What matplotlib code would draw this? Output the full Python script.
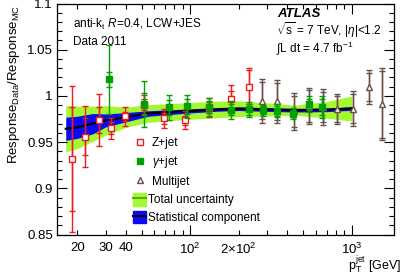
import numpy as np
import matplotlib
matplotlib.use("Agg")
import matplotlib.pyplot as plt
from matplotlib.patches import Patch
from matplotlib.lines import Line2D
from matplotlib.ticker import FixedLocator, NullFormatter, MultipleLocator

plt.rcParams['font.family'] = ['Liberation Sans', 'DejaVu Sans']
plt.rcParams['mathtext.fontset'] = 'custom'
plt.rcParams['mathtext.rm'] = 'Liberation Sans'
plt.rcParams['mathtext.it'] = 'Liberation Sans:italic'
plt.rcParams['mathtext.bf'] = 'Liberation Sans:bold'

# ---- data ----
zjet_pt = [18.5, 22.5, 27.2, 32.5, 39.5, 52, 69, 93, 130, 179, 231]
zjet_val = [0.932, 0.9557, 0.9738, 0.9648, 0.978, 0.9907, 0.9756, 0.9738, 0.9873, 0.9964, 1.0097]
zjet_tot = [0.079, 0.033, 0.028, 0.011, 0.0105, 0.0105, 0.0105, 0.0098, 0.010, 0.015, 0.021]
zjet_stat = [0.056, 0.020, 0.014, 0.0065, 0.005, 0.006, 0.006, 0.005, 0.006, 0.009, 0.018]

gjet_pt = [31.6, 52, 73.5, 95, 130, 180, 231, 284, 343, 435, 540, 658]
gjet_val = [1.018, 0.9914, 0.9875, 0.989, 0.988, 0.985, 0.9856, 0.9846, 0.9838, 0.981, 0.991, 0.988]
gjet_tot = [0.037, 0.0245, 0.014, 0.0125, 0.0095, 0.0095, 0.008, 0.006, 0.007, 0.006, 0.0085, 0.012]
gjet_stat = [0.008, 0.012, 0.008, 0.008, 0.006, 0.006, 0.006, 0.004, 0.005, 0.004, 0.006, 0.009]

mj_pt = [279, 343, 441, 540, 660, 813, 1023, 1274, 1531]
mj_val = [0.9946, 0.994, 0.9833, 0.989, 0.988, 0.9856, 0.9864, 1.0097, 0.991]
mj_tot = [0.0235, 0.0235, 0.020, 0.0196, 0.019, 0.016, 0.019, 0.0185, 0.039]
mj_stat = [0.020, 0.020, 0.017, 0.017, 0.016, 0.014, 0.016, 0.015, 0.036]

band_pt = [17, 20, 25, 30, 40, 55, 100, 150, 200, 300, 450, 700, 1000]
band_center = [0.9645, 0.966, 0.970, 0.9735, 0.977, 0.981, 0.9838, 0.9855, 0.9862, 0.9853, 0.9846, 0.985, 0.9864]
band_total = [0.025, 0.023, 0.019, 0.016, 0.011, 0.0095, 0.009, 0.009, 0.0085, 0.007, 0.0055, 0.009, 0.0135]
band_stat = [0.0125, 0.012, 0.011, 0.007, 0.005, 0.003, 0.0022, 0.002, 0.002, 0.002, 0.002, 0.002, 0.002]

xtick_vals = [20, 30, 40, 100, 200, 1000]
xtick_labels = ['20', '30', '40', r'$10^{2}$', r'$2{\times}10^{2}$', r'$10^{3}$']

W, H = 407, 276
fig = plt.figure(figsize=(W/100, H/100), dpi=100)
ax = fig.add_axes([57/W, 1-234.6/H, (394-57)/W, (234.6-3.5)/H])

c_green = '#a4f832'
c_blue = '#0a0af5'
c_red = '#ee1c1c'
c_gj = '#00a000'
c_mj = '#6a5048'

bp = np.array(band_pt)
bc = np.array(band_center)
bt = np.array(band_total)
bs = np.array(band_stat)
fine = np.logspace(np.log10(bp[0]), np.log10(bp[-1]), 300)
lf = np.log10(fine)
lbp = np.log10(bp)
fc = np.interp(lf, lbp, bc)
ft = np.interp(lf, lbp, bt)
fs = np.interp(lf, lbp, bs)
ax.fill_between(fine, fc-ft, fc+ft, color=c_green, lw=0, zorder=1)
ax.fill_between(fine, fc-fs, fc+fs, color=c_blue, lw=0, zorder=2)
ax.plot(fine, fc, color='black', lw=1.6, zorder=3)

def draw(pt, val, tot, stat, color, marker, mfc, z):
    ax.errorbar(pt, val, yerr=tot, fmt='none', ecolor=color, elinewidth=1.0,
                capsize=2.2, capthick=1.0, zorder=z)
    ax.errorbar(pt, val, yerr=stat, fmt='none', ecolor=color, elinewidth=1.0,
                capsize=2.2, capthick=1.0, zorder=z)
    ax.plot(pt, val, linestyle='none', marker=marker, ms=4.6, mfc=mfc, mec=color,
            mew=1.0, zorder=z+0.5)

draw(mj_pt, mj_val, mj_tot, mj_stat, c_mj, '^', 'white', 4)
draw(zjet_pt, zjet_val, zjet_tot, zjet_stat, c_red, 's', 'white', 5)
draw(gjet_pt, gjet_val, gjet_tot, gjet_stat, c_gj, 's', c_gj, 6)

ax.set_xscale('log')
ax.set_xlim(15, 1825)
ax.set_ylim(0.85, 1.1)

ax.xaxis.set_major_locator(FixedLocator([100, 1000]))
minors = [v*d for d in [10, 100, 1000] for v in range(2, 10) if 15 <= v*d <= 1825]
ax.xaxis.set_minor_locator(FixedLocator(minors))
ax.xaxis.set_major_formatter(NullFormatter())
ax.xaxis.set_minor_formatter(NullFormatter())
for v, lab in zip(xtick_vals, xtick_labels):
    ax.text(v, -0.03, lab, transform=ax.get_xaxis_transform(), ha='center', va='top', fontsize=9.5)

ax.yaxis.set_major_locator(MultipleLocator(0.05))
ax.yaxis.set_minor_locator(MultipleLocator(0.01))
ax.yaxis.set_major_formatter(matplotlib.ticker.FuncFormatter(lambda v, p: ('%g' % round(v, 2))))

ax.tick_params(which='both', direction='in', top=True, right=True, width=0.8)
ax.tick_params(which='major', length=7, labelsize=9.5, pad=3)
ax.tick_params(which='minor', length=3.5)
for s in ax.spines.values():
    s.set_linewidth(0.9)

fig.text(14/W, 1-5/H, r'Response$_{\mathrm{Data}}$/Response$_{\mathrm{MC}}$', rotation=90,
         ha='center', va='top', fontsize=9.5)
fig.text(401/W, 1-276/H, r'$\mathrm{p}_{\mathrm{T}}^{\mathrm{jet}}$ [GeV]', ha='right', va='bottom', fontsize=9)

def ft_(x, y, s, **kw):
    fig.text(x/W, 1-y/H, s, va='center', ha='left', **kw)

ft_(73, 24, r'anti-k$_{\mathrm{t}}$ $R$=0.4, LCW+JES', fontsize=8.5)
ft_(73, 42, 'Data 2011', fontsize=8.5)
ft_(277, 14, 'ATLAS', fontsize=9.5, fontweight='bold', fontstyle='italic')
ft_(276, 30, r'$\sqrt{\mathrm{s}}$ = 7 TeV, |$\eta$|<1.2', fontsize=8.5)
ft_(276, 48.5, r'$\int$L dt = 4.7 fb$^{-1}$', fontsize=8.5)

h1 = [Line2D([], [], ls='none', marker='s', ms=4.6, mfc='white', mec=c_red, mew=1.0),
      Line2D([], [], ls='none', marker='s', ms=4.6, mfc=c_gj, mec=c_gj, mew=1.0),
      Line2D([], [], ls='none', marker='^', ms=4.6, mfc='white', mec=c_mj, mew=1.0)]
leg1 = ax.legend(h1, ['Z+jet', r'$\gamma$+jet', 'Multijet'], loc='upper left',
                 bbox_to_anchor=((133-57)/(394-57), (234.6-137)/(234.6-3.5)),
                 frameon=False, fontsize=8.5, handlelength=1.2, handletextpad=0.4,
                 labelspacing=0.45, borderpad=0, borderaxespad=0)
ax.add_artist(leg1)
h2 = [(Patch(facecolor=c_green, edgecolor=c_green), Line2D([], [], color='#55aa22', lw=1.5)),
      (Patch(facecolor=c_blue, edgecolor=c_blue), Line2D([], [], color='black', lw=1.5))]
ax.legend(h2, ['Total uncertainty', 'Statistical component'], loc='upper left',
          bbox_to_anchor=((133-57)/(394-57), (234.6-193)/(234.6-3.5)),
          frameon=False, fontsize=8.5, handlelength=1.1, handleheight=1.3, handletextpad=0.2,
          labelspacing=0.35, borderpad=0, borderaxespad=0)

fig.savefig('out.png', dpi=100)
